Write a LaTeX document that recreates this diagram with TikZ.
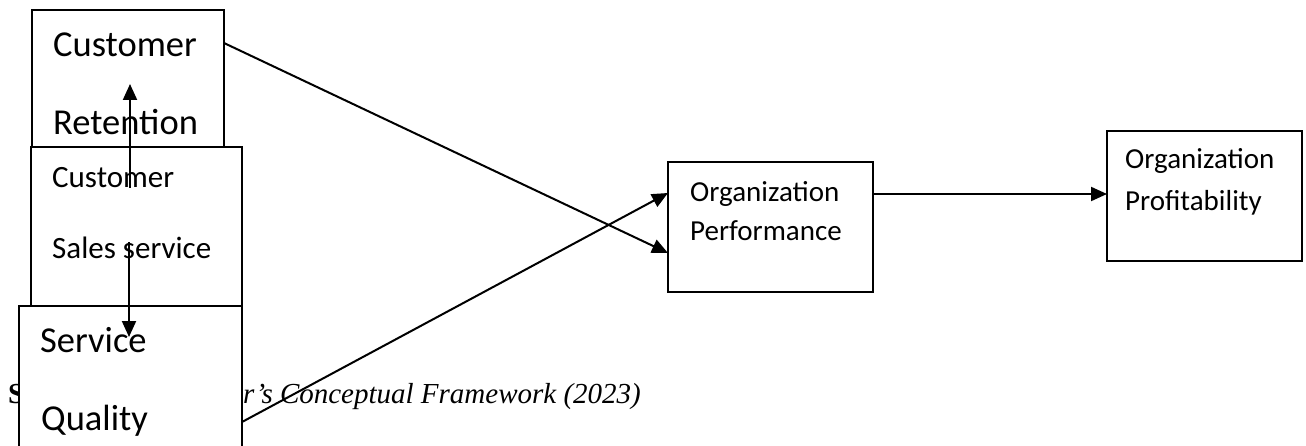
\documentclass[tikz,border=0pt]{standalone}
\usepackage{fontspec}
\setmainfont{Liberation Serif}
\newfontfamily\calibri{Carlito}
\usetikzlibrary{arrows.meta,calc}
\begin{document}
\begin{tikzpicture}[x=1pt,y=-1pt,
  box/.style={draw,line width=2pt,fill=white,inner sep=0pt,outer sep=0pt,anchor=north west},
  lbl/.style={anchor=base west,inner sep=0pt},
  big/.style={lbl,font=\calibri\fontsize{36.5}{40}\selectfont},
  mid/.style={lbl,font=\calibri\fontsize{31}{34}\selectfont},
  sml/.style={lbl,font=\calibri\fontsize{29}{32}\selectfont},
  captxt/.style={anchor=base west,inner sep=0pt,font=\fontsize{29}{32}\selectfont},
  arr/.style={line width=2pt,-{Triangle[length=16pt,width=14pt]}}]
\useasboundingbox (0,0) rectangle (1306,446);
% left column
\node[box,minimum width=192pt,minimum height=137pt] (A) at (32,10) {};
\node[big] (a1) at (53,57) {Customer};
\node[big] (a2) at (53,135) {Retention};
\node[box,minimum width=211pt,minimum height=159pt] (B) at (31,147) {};
\node[mid] (b1) at (52,188) {Customer};
\node[mid] (b2) at (52,259) {Sales service};
% caption (partly hidden behind the Service Quality box)
\node[captxt] (src) at (8,403) {\bfseries S};
\node[captxt] (capt) at (243,403) {\itshape r’s Conceptual Framework (2023)};
\node[box,minimum width=223pt,minimum height=150pt] (C) at (19,306) {};
\node[big] (c1) at (40,352) {Service};
\node[big] (c2) at (41,430) {Quality};
% right boxes
\node[box,minimum width=205pt,minimum height=130pt] (D) at (668,162) {};
\node[sml] (d1) at (690,202) {Organization};
\node[sml] (d2) at (690,241) {Performance};
\node[box,minimum width=195pt,minimum height=130pt] (E) at (1107,131) {};
\node[sml] (e1) at (1125,169) {Organization};
\node[sml] (e2) at (1125,211) {Profitability};
% connectors
\coordinate (u0) at (130,188);
\coordinate (u1) at (130,84);
\coordinate (v0) at (129,242);
\coordinate (v1) at (129,337);
\draw[arr] (u0) -- (u1);
\draw[arr] (v0) -- (v1);
\draw[arr] ([yshift=-33pt]A.north east) -- ([yshift=-91pt]D.north west);
\draw[arr] ([yshift=-116pt]C.north east) -- ([yshift=-31pt]D.north west);
\draw[arr] ([yshift=-32pt]D.north east) -- ([yshift=-63pt]E.north west);
\end{tikzpicture}
\end{document}
